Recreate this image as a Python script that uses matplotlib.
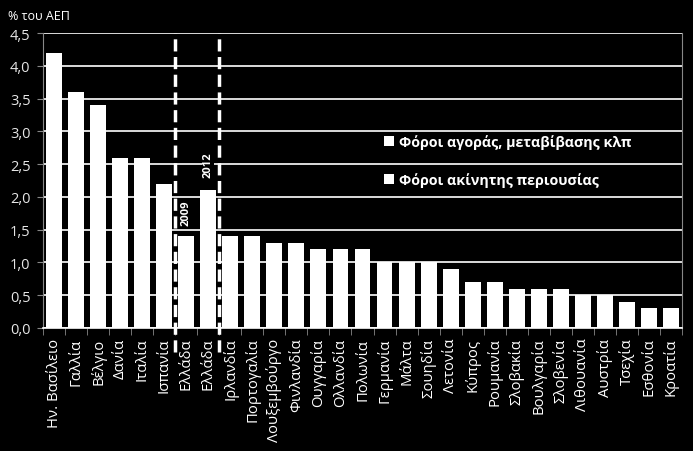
import matplotlib
matplotlib.use("Agg")
import matplotlib.pyplot as plt
from matplotlib.patches import Patch
from matplotlib.ticker import FixedLocator, FuncFormatter

plt.rcParams['font.family'] = ['Open Sans', 'DejaVu Sans']

countries = ["Ην. Βασίλειο", "Γαλλία", "Βέλγιο", "Δανία", "Ιταλία", "Ισπανία",
             "Ελλάδα", "Ελλάδα", "Ιρλανδία", "Πορτογαλία", "Λουξεμβούργο",
             "Φινλανδία", "Ουγγαρία", "Ολλανδία", "Πολωνία", "Γερμανία", "Μάλτα",
             "Σουηδία", "Λετονία", "Κύπρος", "Ρουμανία", "Σλοβακία", "Βουλγαρία",
             "Σλοβενία", "Λιθουανία", "Αυστρία", "Τσεχία", "Εσθονία", "Κροατία"]
values = [4.2, 3.6, 3.4, 2.6, 2.6, 2.2, 1.4, 2.1, 1.4, 1.4, 1.3, 1.3, 1.2, 1.2,
          1.2, 1.0, 1.0, 1.0, 0.9, 0.7, 0.7, 0.6, 0.6, 0.6, 0.5, 0.5, 0.4, 0.3, 0.3]
legend_labels = ["Φόροι αγοράς, μεταβίβασης κλπ", "Φόροι ακίνητης περιουσίας"]
year_labels = ["2009", "2012"]
y_ticks = [0.0, 0.5, 1.0, 1.5, 2.0, 2.5, 3.0, 3.5, 4.0, 4.5]

fig = plt.figure(figsize=(6.93, 4.52), dpi=100, facecolor='black')
ax = fig.add_axes([43/693, 1-329/452, (682-43)/693, (329-34)/452])
ax.set_facecolor('black')

x = list(range(len(countries)))
ax.set_axisbelow(True)
ax.grid(axis='y', color='white', linewidth=1.2)
ax.bar(x, values, width=0.72, color='white', zorder=2)

ax.set_xlim(-0.5, len(countries) - 0.5)
ax.set_ylim(0, 4.5)
ax.yaxis.set_major_locator(FixedLocator(y_ticks))
ax.yaxis.set_major_formatter(FuncFormatter(lambda v, p: f"{v:.1f}".replace('.', ',')))
ax.tick_params(axis='y', colors='#e6e6e6', labelsize=10.5, length=4, color='#888888', pad=5)

ax.set_xticks(x)
ax.set_xticklabels(countries, rotation=90, fontsize=10.7, color='white')
ax.tick_params(axis='x', which='major', length=0, pad=7)
ax.set_xticks([i - 0.5 for i in range(len(countries) + 1)], minor=True)
ax.tick_params(axis='x', which='minor', length=5, color='#888888')

for s in ['left', 'right']:
    ax.spines[s].set_color('#888888')
ax.spines['top'].set_visible(False)
ax.spines['bottom'].set_color('white')
ax.spines['bottom'].set_linewidth(1.2)

# dashed separators around Greece
for xv in [5.5, 7.5]:
    ax.plot([xv, xv], [-0.37, 4.5], color='white', linewidth=2.5,
            linestyle=(0, (3.5, 1.6)), clip_on=False, zorder=4)

ax.text(6.0, 1.77, year_labels[0], rotation=90, color='white', fontsize=8,
        fontweight='bold', ha='center', va='center', zorder=5,
        bbox=dict(facecolor='black', edgecolor='none', pad=0.5))
ax.text(7.0, 2.5, year_labels[1], rotation=90, color='white', fontsize=8,
        fontweight='bold', ha='center', va='center', zorder=5,
        bbox=dict(facecolor='black', edgecolor='none', pad=0.5))

handles = [Patch(facecolor='white', edgecolor='none'),
           Patch(facecolor='white', edgecolor='none')]
leg = ax.legend(handles, legend_labels, loc='upper left',
                bbox_to_anchor=(371/693, 1-122/452), bbox_transform=fig.transFigure,
                frameon=False, handlelength=0.7, handleheight=0.7, handletextpad=0.35,
                labelspacing=1.65, prop={'size': 10.3, 'weight': 'bold'})
for t in leg.get_texts():
    t.set_color('white')

fig.text(8/693, 1-17/452, "% του ΑΕΠ", color='white', fontsize=9, va='center', ha='left')

fig.savefig('out.png', dpi=100, facecolor='black')
